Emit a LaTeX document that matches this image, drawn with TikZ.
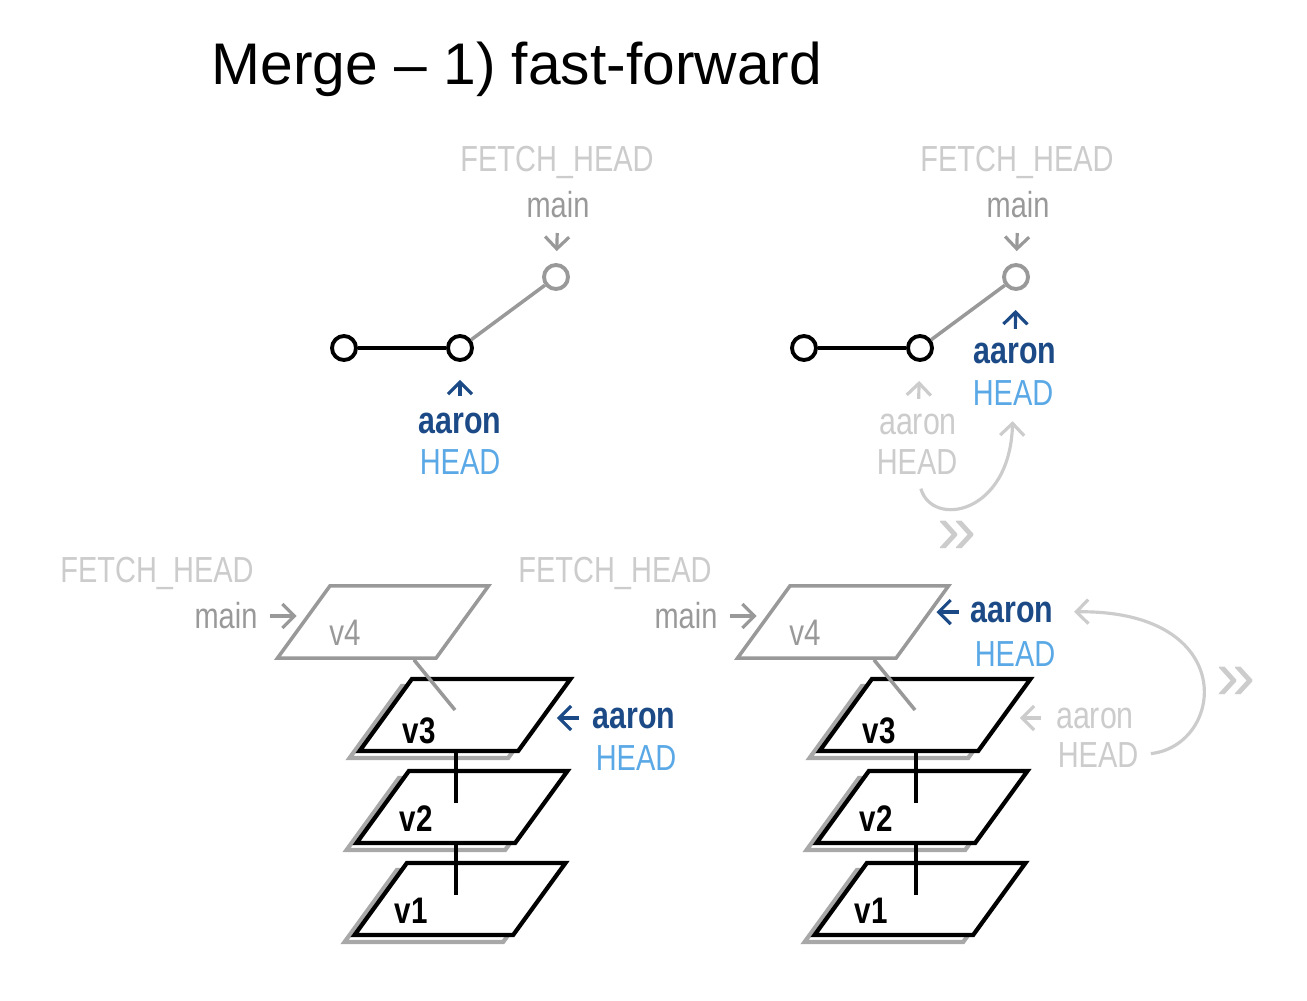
\documentclass[tikz,border=0pt]{standalone}
\usepackage{fontspec}
\setmainfont{Liberation Sans}
\newfontfamily\handfont[FakeStretch=0.8]{Liberation Sans}
\usetikzlibrary{shapes.geometric, arrows.meta, positioning, calc, shadows}

\definecolor{faint}{HTML}{CCCCCC}
\definecolor{midgray}{HTML}{999999}
\definecolor{shade}{HTML}{A8A8A8}
\definecolor{navy}{HTML}{1B4A86}
\definecolor{sky}{HTML}{5AA9E6}

\begin{document}
\begin{tikzpicture}[
    x=0.01cm, y=-0.01cm,
    commit/.style={circle, draw, line width=1.1pt, minimum size=0.24cm, inner sep=0pt, fill=white},
    version/.style={trapezium, trapezium left angle=54, trapezium right angle=126,
        inner xsep=15.1pt, inner ysep=10.25pt, draw, line width=1.2pt, fill=white},
    shadowed/.style={copy shadow={shadow xshift=-0.1cm, shadow yshift=-0.07cm, draw=shade, fill=white}},
    lbl/.style={font=\handfont\fontsize{10.3}{12}\selectfont, inner sep=0pt},
    who/.style={font=\handfont\fontsize{10.8}{12}\selectfont\bfseries, inner sep=0pt},
    vtag/.style={font=\handfont\fontsize{10.5}{12}\selectfont, inner sep=0pt},
    hop/.style={font=\fontsize{20}{22}\selectfont, text=faint, inner sep=0pt},
    ptr/.style={-{Straight Barb[length=1.2mm, width=2.4mm]}, line width=0.9pt},
    link/.style={line width=1pt}
]
    \fill[white] (0,0) rectangle (1307,1000);

    \node[anchor=base west, inner sep=0pt, font=\fontsize{16.7}{20}\selectfont] (title) at (211,84) {Merge – 1) fast-forward};

    % before the merge
    \node[commit] (c1) at (344,348) {};
    \node[commit] (c2) at (460,348) {};
    \node[commit, draw=midgray] (c3) at (556,277) {};
    \draw[link] (c1) -- (c2);
    \draw[link, midgray] (c2) -- (c3);
    \node[lbl, text=faint] (fetch1) at (557,162) {FETCH\_HEAD};
    \node[lbl, text=midgray] (main1) at (558,205) {main};
    \draw[ptr, midgray, shorten <=0.14cm, shorten >=0.12cm] (main1) -- (c3);
    \node[who, text=navy] (aaron1) at (460,423) {aaron};
    \node[lbl, text=sky] (head1) at (460,462) {HEAD};
    \draw[ptr, navy, shorten <=0.16cm, shorten >=0.18cm] (aaron1) -- (c2);

    % after the merge
    \node[commit] (c4) at (804,348) {};
    \node[commit] (c5) at (920,348) {};
    \node[commit, draw=midgray] (c6) at (1016,277) {};
    \draw[link] (c4) -- (c5);
    \draw[link, midgray] (c5) -- (c6);
    \node[lbl, text=faint] (fetch2) at (1017,162) {FETCH\_HEAD};
    \node[lbl, text=midgray] (main2) at (1018,205) {main};
    \draw[ptr, midgray, shorten <=0.14cm, shorten >=0.12cm] (main2) -- (c6);
    \node[who, text=navy] (aaron2) at (1015,353) {aaron};
    \node[lbl, text=sky] (head2) at (1013,393) {HEAD};
    \draw[ptr, navy, shorten <=0.13cm, shorten >=0.19cm] (aaron2) -- (c6);
    \node[who, font=\handfont\fontsize{10.8}{12}\selectfont, text=faint] (aaron2old) at (918,424) {aaron};
    \node[lbl, text=faint] (head2old) at (917,462) {HEAD};
    \draw[ptr, faint, shorten <=0.14cm, shorten >=0.19cm] (aaron2old) -- (c5);
    \draw[ptr, faint, shorten <=0.14cm, shorten >=0.15cm] (head2old.south) .. controls (932,528) and (1010,515) .. (head2.south);
    \node[hop] (ff1) at (957,537) {»};

    % versions, before
    \node[lbl, text=faint] (fetch3) at (157,573) {FETCH\_HEAD};
    \node[lbl, text=midgray] (main3) at (226,616) {main};
    \node[version, draw=midgray, line width=1pt] (v4a) at (383,622) {};
    \node[version, shadowed] (v3a) at (465,715) {};
    \node[version, shadowed] (v2a) at (462,807) {};
    \node[version, shadowed] (v1a) at (460,899) {};
    \node[vtag, text=midgray] (t4a) at (345,633) {v4};
    \node[vtag, font=\handfont\fontsize{10.5}{12}\selectfont\bfseries] (t3a) at (419,731) {v3};
    \node[vtag, font=\handfont\fontsize{10.5}{12}\selectfont\bfseries] (t2a) at (416,819) {v2};
    \node[vtag, font=\handfont\fontsize{10.5}{12}\selectfont\bfseries] (t1a) at (411,911) {v1};
    \coordinate (d3a) at (455,710);
    \coordinate (d2a) at (456,803);
    \coordinate (d1a) at (456,895);
    \draw[link, midgray] (v4a) -- (d3a);
    \draw[link, line width=1.2pt] (d2a |- v3a.south) -- (d2a);
    \draw[link, line width=1.2pt] (d1a |- v2a.south) -- (d1a);
    \draw[ptr, midgray, shorten <=0.12cm, shorten >=0.05cm] (main3.east) -- (main3.east -| v4a.west);
    \node[who, text=navy] (aaron3) at (634,718) {aaron};
    \node[lbl, text=sky] (head3) at (636,758) {HEAD};
    \draw[ptr, navy, shorten <=0.13cm, shorten >=0.1cm] (aaron3.west) -- (aaron3.west -| v3a.east);

    % versions, after
    \node[lbl, text=faint] (fetch4) at (615,573) {FETCH\_HEAD};
    \node[lbl, text=midgray] (main4) at (686,616) {main};
    \node[version, draw=midgray, line width=1pt] (v4b) at (843,622) {};
    \node[version, shadowed] (v3b) at (925,715) {};
    \node[version, shadowed] (v2b) at (922,807) {};
    \node[version, shadowed] (v1b) at (920,899) {};
    \node[vtag, text=midgray] (t4b) at (805,633) {v4};
    \node[vtag, font=\handfont\fontsize{10.5}{12}\selectfont\bfseries] (t3b) at (879,731) {v3};
    \node[vtag, font=\handfont\fontsize{10.5}{12}\selectfont\bfseries] (t2b) at (876,819) {v2};
    \node[vtag, font=\handfont\fontsize{10.5}{12}\selectfont\bfseries] (t1b) at (871,911) {v1};
    \coordinate (d3b) at (915,710);
    \coordinate (d2b) at (916,803);
    \coordinate (d1b) at (916,895);
    \draw[link, midgray] (v4b) -- (d3b);
    \draw[link, line width=1.2pt] (d2b |- v3b.south) -- (d2b);
    \draw[link, line width=1.2pt] (d1b |- v2b.south) -- (d1b);
    \draw[ptr, midgray, shorten <=0.12cm, shorten >=0.05cm] (main4.east) -- (main4.east -| v4b.west);
    \node[who, text=navy] (aaron4) at (1012,612) {aaron};
    \node[lbl, text=sky] (head4) at (1015,654) {HEAD};
    \draw[ptr, navy, shorten <=0.11cm, shorten >=0.12cm] (aaron4.west) -- (aaron4.west -| v4b.east);
    \node[who, font=\handfont\fontsize{10.8}{12}\selectfont, text=faint] (aaron5) at (1095,718) {aaron};
    \node[lbl, text=faint] (head5) at (1098,755) {HEAD};
    \draw[ptr, faint, shorten <=0.14cm, shorten >=0.13cm] (aaron5.west) -- (aaron5.west -| v3b.east);
    \draw[ptr, faint, shorten <=0.12cm, shorten >=0.2cm] (head5.east) .. controls (1225,745) and (1240,610) .. (aaron4.east);
    \node[hop] (ff2) at (1236,683) {»};
\end{tikzpicture}
\end{document}
